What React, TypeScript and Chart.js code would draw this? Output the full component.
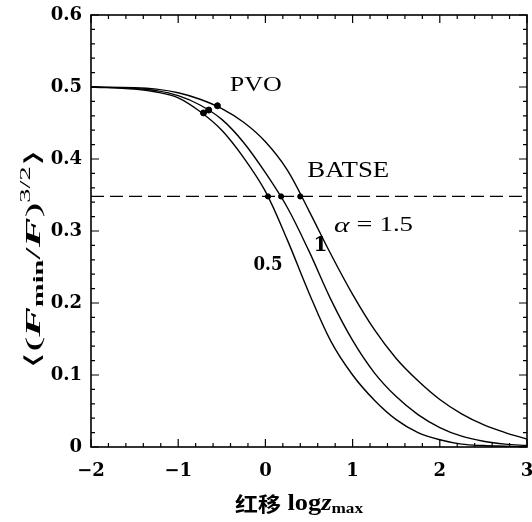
import React, { useEffect, useRef } from "react";
import { Chart, registerables } from "chart.js";

Chart.register(...registerables);

// log z_max grid (x) and the three curves for alpha = 0.5, 1, 1.5
const logZ = [-2, -1.5, -1.25, -1, -0.75, -0.5, -0.25, 0, 0.25, 0.5, 0.75, 1, 1.25, 1.5, 1.75, 2, 2.25, 2.5, 2.75, 3];
const alpha05 = [0.5, 0.497, 0.493, 0.485, 0.466, 0.44, 0.402, 0.355, 0.288, 0.214, 0.147, 0.1, 0.065, 0.038, 0.02, 0.01, 0.004, 0.002, 0.001, 0.0];
const alpha10 = [0.5, 0.498, 0.495, 0.488, 0.475, 0.455, 0.423, 0.381, 0.333, 0.272, 0.205, 0.148, 0.103, 0.07, 0.045, 0.027, 0.015, 0.008, 0.004, 0.002];
const alpha15 = [0.5, 0.499, 0.497, 0.492, 0.483, 0.47, 0.451, 0.424, 0.385, 0.328, 0.268, 0.212, 0.163, 0.123, 0.092, 0.066, 0.046, 0.031, 0.02, 0.011];

// marked points
const pvoX = [-0.71, -0.65, -0.55];
const pvoY = [0.464, 0.468, 0.474];
const batseX = [0.03, 0.18, 0.4];
const batseY = [0.348, 0.348, 0.348];
const batseLevel = 0.348;

// axes
const xMin = -2;
const xMax = 3;
const yMin = 0;
const yMax = 0.6;
const xMajorStep = 1;
const xMinorStep = 0.2;
const yMajorStep = 0.1;
const yMinorStep = 0.02;

const SERIF = '"Liberation Serif", "DejaVu Serif", serif';
const TICKFONT = '"DejaVu Serif", serif';
const CJK = '"Noto Sans CJK SC", sans-serif';

type Run = { t: string; f: string; dy?: number };

function drawRuns(
  ctx: CanvasRenderingContext2D,
  runs: Run[],
  cx: number,
  cy: number,
  rot = 0,
  targetWidth = 0
) {
  ctx.save();
  ctx.translate(cx, cy);
  if (rot) ctx.rotate(rot);
  ctx.fillStyle = "#000";
  ctx.textBaseline = "middle";
  ctx.textAlign = "left";
  let w = 0;
  for (const r of runs) {
    ctx.font = r.f;
    w += ctx.measureText(r.t).width;
  }
  if (targetWidth > 0) ctx.scale(targetWidth / w, 1);
  let x = -w / 2;
  for (const r of runs) {
    ctx.font = r.f;
    ctx.fillText(r.t, x, r.dy || 0);
    x += ctx.measureText(r.t).width;
  }
  ctx.restore();
}

const framePlugin = {
  id: "frame",
  afterDatasetsDraw(chart: any) {
    const ctx: CanvasRenderingContext2D = chart.ctx;
    const { left, right, top, bottom } = chart.chartArea;
    const xs = chart.scales.x;
    const ys = chart.scales.y;
    ctx.save();
    ctx.strokeStyle = "#000";
    ctx.lineWidth = 1.6;
    ctx.strokeRect(left, top, right - left, bottom - top);

    ctx.lineWidth = 1.2;
    ctx.beginPath();
    const nx = Math.round((xMax - xMin) / xMinorStep);
    for (let i = 0; i <= nx; i++) {
      const v = xMin + i * xMinorStep;
      const major = Math.abs(v / xMajorStep - Math.round(v / xMajorStep)) < 1e-6;
      const len = major ? 8 : 4;
      const px = xs.getPixelForValue(v);
      ctx.moveTo(px, bottom);
      ctx.lineTo(px, bottom - len);
      ctx.moveTo(px, top);
      ctx.lineTo(px, top + len);
    }
    const ny = Math.round((yMax - yMin) / yMinorStep);
    for (let i = 0; i <= ny; i++) {
      const v = yMin + i * yMinorStep;
      const major = Math.abs(v / yMajorStep - Math.round(v / yMajorStep)) < 1e-6;
      const len = major ? 8 : 4;
      const py = ys.getPixelForValue(v);
      ctx.moveTo(left, py);
      ctx.lineTo(left + len, py);
      ctx.moveTo(right, py);
      ctx.lineTo(right - len, py);
    }
    ctx.stroke();

    // annotations (positions in data units)
    const at = (x: number, y: number): [number, number] => [xs.getPixelForValue(x), ys.getPixelForValue(y)];
    let p = at(-0.11, 0.503);
    drawRuns(ctx, [{ t: "PVO", f: `22px ${SERIF}` }], p[0], p[1], 0, 52);
    p = at(0.95, 0.383);
    drawRuns(ctx, [{ t: "BATSE", f: `23px ${SERIF}` }], p[0], p[1], 0, 82);
    p = at(1.24, 0.307);
    drawRuns(
      ctx,
      [
        { t: "α", f: `italic 22px ${SERIF}` },
        { t: " = ", f: `21px ${SERIF}` },
        { t: "1.5", f: `20px ${SERIF}` },
      ],
      p[0],
      p[1],
      0,
      79
    );
    p = at(0.63, 0.279);
    drawRuns(ctx, [{ t: "1", f: `bold 20px ${TICKFONT}` }], p[0], p[1]);
    p = at(0.03, 0.253);
    drawRuns(ctx, [{ t: "0.5", f: `bold 18px ${TICKFONT}` }], p[0], p[1], 0, 29);

    // axis titles
    drawRuns(
      ctx,
      [
        { t: "红移", f: `bold 20px ${CJK}` },
        { t: " log", f: `bold 23px ${SERIF}` },
        { t: "z", f: `italic bold 23px ${SERIF}` },
        { t: "max", f: `bold 15px ${SERIF}`, dy: 5 },
      ],
      (left + right) / 2 - 10,
      504,
      0,
      128
    );
    const big = `22px ${SERIF}`;
    drawRuns(
      ctx,
      [
        { t: "⟨", f: `22px "DejaVu Serif", serif` },
        { t: "(", f: big },
        { t: "F", f: `italic bold 22px ${SERIF}` },
        { t: "min", f: `bold 14px ${SERIF}`, dy: 5 },
        { t: "/", f: big },
        { t: "F", f: `italic bold 22px ${SERIF}` },
        { t: ")", f: big },
        { t: "3/2", f: `14px ${SERIF}`, dy: -8 },
        { t: "⟩", f: `22px "DejaVu Serif", serif` },
      ],
      34,
      259,
      -Math.PI / 2,
      220
    );
    ctx.restore();
  },
};

export default function App() {
  const ref = useRef<HTMLCanvasElement | null>(null);
  useEffect(() => {
    if (!ref.current) return;
    const curve = (ys: number[]) => logZ.map((x, i) => ({ x, y: ys[i] }));
    const lineStyle = {
      borderColor: "#000",
      borderWidth: 1.4,
      pointRadius: 0,
      tension: 0.35,
      fill: false,
    };
    const zeroPad = (s: any) => {
      s.paddingLeft = 0;
      s.paddingRight = 0;
      s.paddingTop = 0;
      s.paddingBottom = 0;
    };
    const chart = new Chart(ref.current, {
      type: "line",
      data: {
        datasets: [
          { label: "α=0.5", data: curve(alpha05), ...lineStyle },
          { label: "α=1", data: curve(alpha10), ...lineStyle },
          { label: "α=1.5", data: curve(alpha15), ...lineStyle },
          {
            label: "BATSE",
            data: [
              { x: xMin, y: batseLevel },
              { x: xMax, y: batseLevel },
            ],
            borderColor: "#000",
            borderWidth: 1.3,
            borderDash: [13, 6],
            pointRadius: 0,
            tension: 0,
            fill: false,
          },
          {
            label: "PVO points",
            data: pvoX.map((x, i) => ({ x, y: pvoY[i] })),
            showLine: false,
            pointRadius: 3,
            pointBackgroundColor: "#000",
            pointBorderColor: "#000",
          },
          {
            label: "BATSE points",
            data: batseX.map((x, i) => ({ x, y: batseY[i] })),
            showLine: false,
            pointRadius: 2.6,
            pointBackgroundColor: "#000",
            pointBorderColor: "#000",
          },
        ],
      },
      options: {
        animation: false,
        responsive: false,
        events: [],
        layout: { padding: { top: 15, right: 5, left: 0, bottom: 0 }, autoPadding: false },
        plugins: { legend: { display: false }, tooltip: { enabled: false } },
        scales: {
          x: {
            type: "linear",
            min: xMin,
            max: xMax,
            grid: { display: false, drawTicks: false },
            border: { display: false },
            ticks: {
              stepSize: xMajorStep,
              color: "#000",
              padding: 14,
              font: { family: TICKFONT, size: 18, weight: "bold" },
              callback: (v: any) => (Number(v) < 0 ? "−" + Math.abs(Number(v)) : String(v)),
            },
            afterFit: (s: any) => {
              s.height = 75;
              zeroPad(s);
            },
          },
          y: {
            type: "linear",
            min: yMin,
            max: yMax,
            grid: { display: false, drawTicks: false },
            border: { display: false },
            ticks: {
              stepSize: yMajorStep,
              color: "#000",
              padding: 9,
              font: { family: TICKFONT, size: 18, weight: "bold" },
              callback: (v: any) => (Math.abs(Number(v)) < 1e-9 ? "0" : Number(v).toFixed(1)),
            },
            afterFit: (s: any) => {
              s.width = 91;
              zeroPad(s);
            },
          },
        },
      },
      plugins: [framePlugin],
    });
    return () => chart.destroy();
  }, []);
  return (
    <div style={{ position: "absolute", left: 0, top: 0, width: 532, height: 522, background: "#fff" }}>
      <canvas ref={ref} width={532} height={522} />
    </div>
  );
}
